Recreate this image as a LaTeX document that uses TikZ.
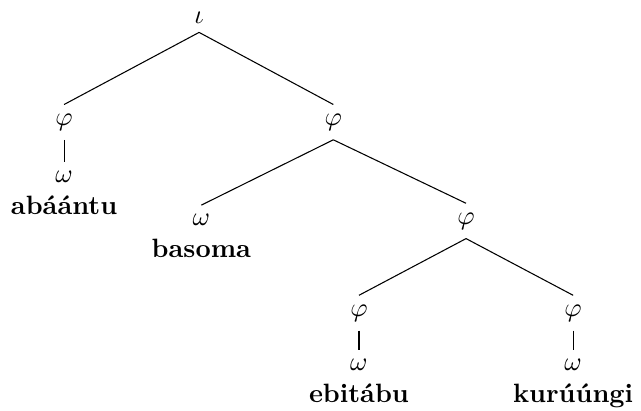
\documentclass[tikz,border=0pt]{standalone}
\usepackage{tikz}
\tikzset{leaf/.style={anchor=north, align=center}}

\begin{document}
\begin{tikzpicture}
		\useasboundingbox (0,0) rectangle (8.50,5.44);
		%Nudos del arbol
		\node (iota) at (2.64,5.21) {$\iota$};
		\node (phiA) at (0.85,3.82) {$\varphi$};
		\node (phiB) at (4.42,3.82) {$\varphi$};
		\node (phiC) at (6.18,2.51) {$\varphi$};
		\node (phiD) at (4.76,1.29) {$\varphi$};
		\node (phiE) at (7.60,1.29) {$\varphi$};
		%Hojas con la palabra debajo
		\node[leaf] (wA) at (0.85,3.29) {$\omega$\\\textbf{abáántu}};
		\node[leaf] (wB) at (2.67,2.72) {$\omega$\\\textbf{basoma}};
		\node[leaf] (wD) at (4.76,0.80) {$\omega$\\\textbf{ebitábu}};
		\node[leaf] (wE) at (7.60,0.80) {$\omega$\\\textbf{kurúúngi}};
		
		\draw (iota.south) -- (phiA.north);
		\draw (iota.south) -- (phiB.north);
		\draw (phiA.south) -- (wA.north);
		\draw (phiB.south) -- (wB.north);
		\draw (phiB.south) -- (phiC.north);
		\draw (phiC.south) -- (phiD.north);
		\draw (phiC.south) -- (phiE.north);
		\draw (phiD.south) -- (wD.north);
		\draw (phiE.south) -- (wE.north);
	\end{tikzpicture}
\end{document}
